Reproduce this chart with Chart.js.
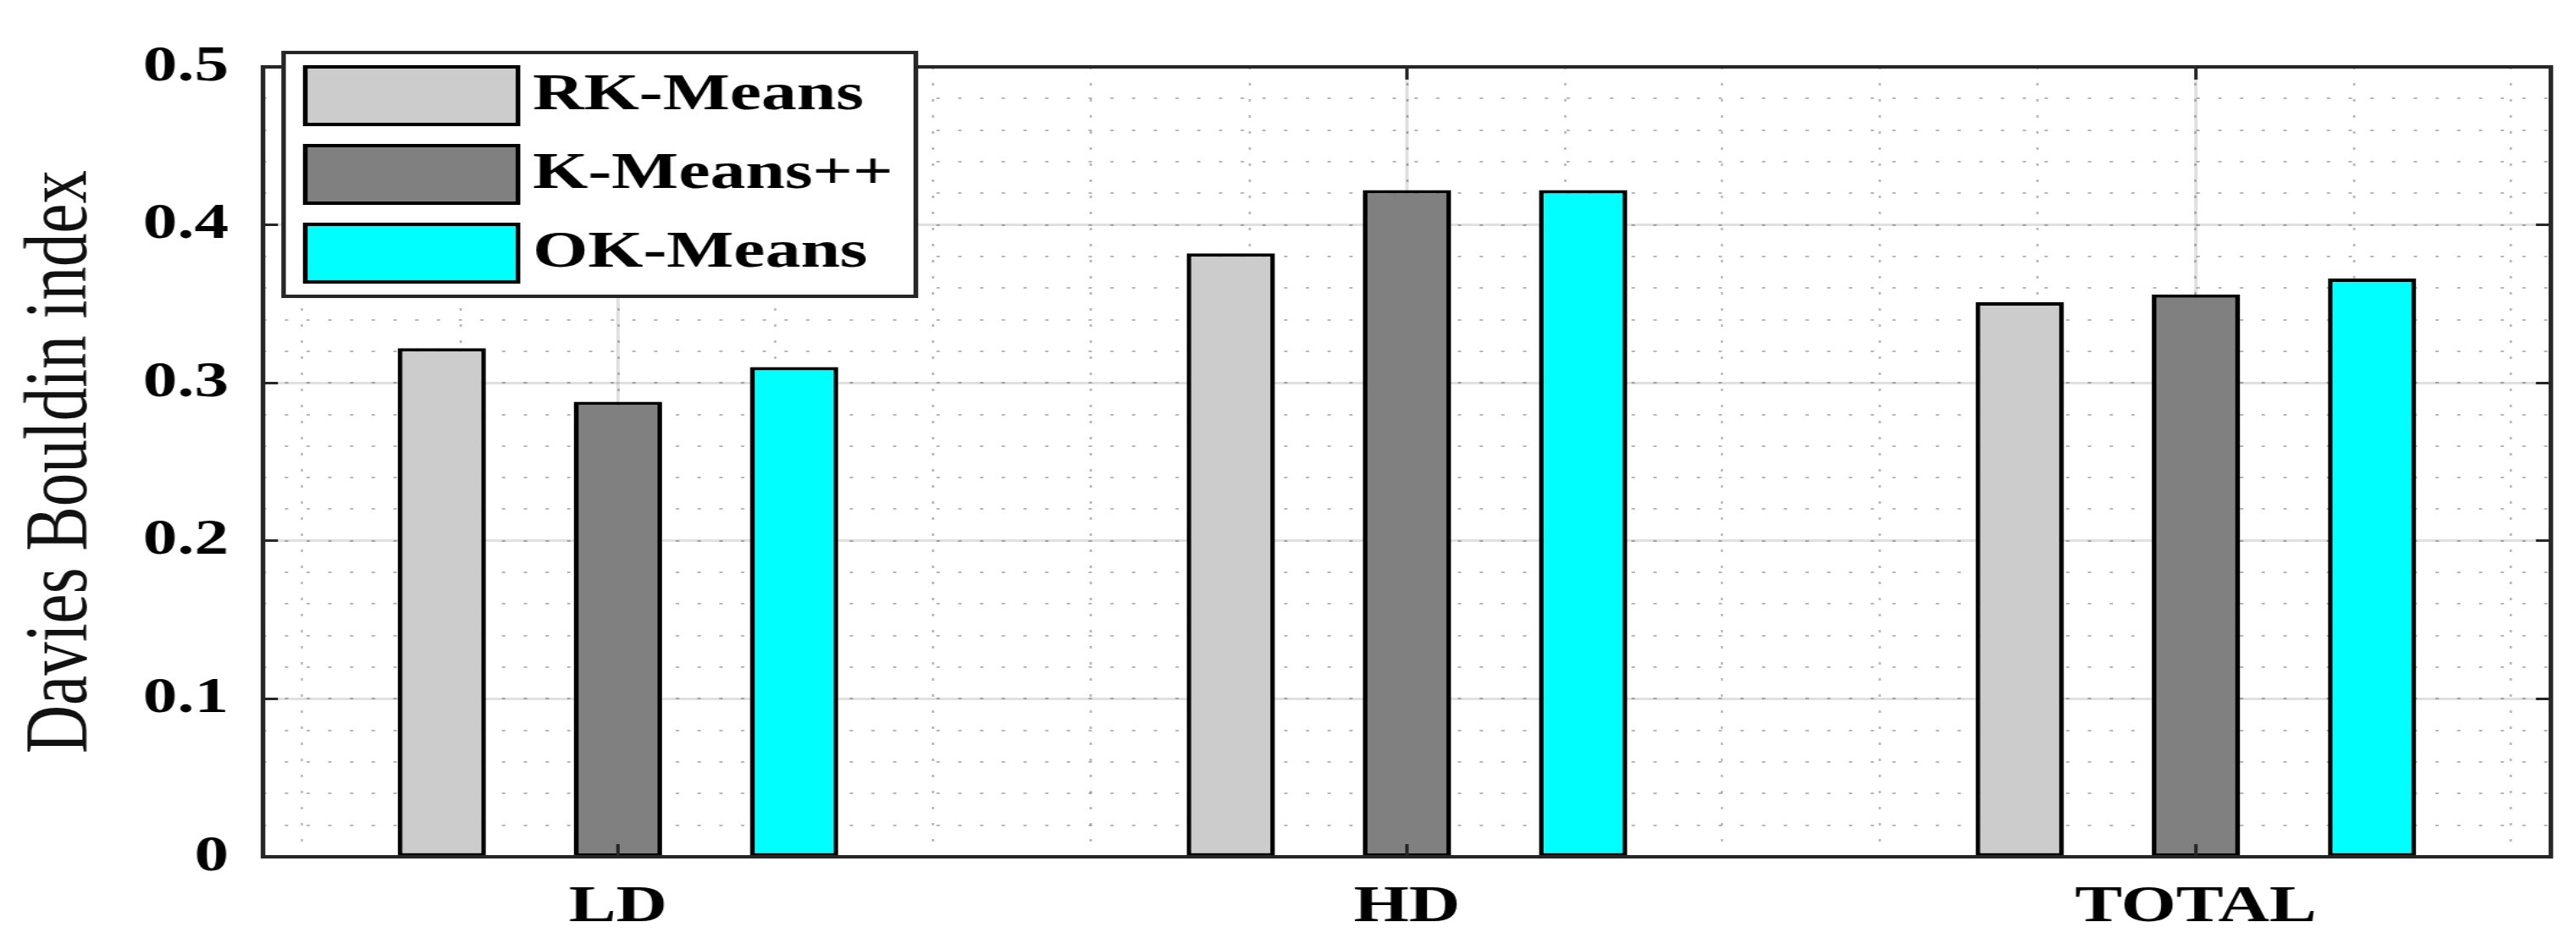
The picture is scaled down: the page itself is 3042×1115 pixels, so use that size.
<!DOCTYPE html>
<html>
<head>
<meta charset="utf-8">
<title>Davies Bouldin index</title>
<script src="https://cdn.jsdelivr.net/npm/chart.js@4.4.1/dist/chart.umd.min.js"></script>
<style>
  html, body { margin: 0; padding: 0; background: #fff; }
  #dbChart { display: block; }
</style>
</head>
<body>
<!-- the figure is drawn 2253 wide and stretched to 3042, like the original image -->
<canvas id="dbChart" width="2253" height="1115" style="width:3042px;height:1115px"></canvas>
<script>
// Chart data
const categories = ['LD', 'HD', 'TOTAL'];
const categoryPositions = [1, 2, 3];
const seriesNames = ['RK-Means', 'K-Means++', 'OK-Means'];
const rkMeans = [0.322, 0.382, 0.351];
const kMeansPlus = [0.288, 0.422, 0.356];
const okMeans = [0.310, 0.422, 0.366];
const yTicks = [0, 0.1, 0.2, 0.3, 0.4, 0.5];
const yTickLabels = ['0', '0.1', '0.2', '0.3', '0.4', '0.5'];

// Styles
const fillColors = ['#cccccc', '#808080', '#00ffff'];
const serif = "'Liberation Serif', 'Times New Roman', serif";
const frameColor = '#262626';
const majorGrid = 'rgba(0, 0, 0, 0.12)';
const minorGrid = 'rgba(0, 0, 0, 0.28)';

// Helpers for fixed axis geometry
const setTicks = values => scale => { scale.ticks = values.map(v => ({ value: v })); };
const fixWidth = w => scale => { scale.width = w; };
const fixHeight = h => scale => { scale.height = h; };

function makeDataset(label, values, color) {
  return {
    label: label,
    xAxisID: 'x',
    yAxisID: 'y',
    data: values.map((v, i) => ({ x: categoryPositions[i], y: v })),
    backgroundColor: color,
    borderColor: '#000',
    borderWidth: 4,
    borderSkipped: false,
    categoryPercentage: 0.67,
    barPercentage: 0.5
  };
}

// Legend drawn as a boxed MATLAB style legend
const boxLegend = {
  id: 'boxLegend',
  afterDraw(chart, args, opts) {
    const ctx = chart.ctx;
    ctx.save();
    ctx.fillStyle = '#fff';
    ctx.fillRect(opts.left, opts.top, opts.width, opts.height);
    ctx.lineWidth = 4;
    ctx.strokeStyle = frameColor;
    ctx.strokeRect(opts.left, opts.top, opts.width, opts.height);
    ctx.font = `bold ${opts.fontSize}px ${serif}`;
    ctx.textBaseline = 'middle';
    chart.data.datasets.forEach((ds, i) => {
      const cy = opts.top + opts.firstRow + i * opts.rowGap;
      const sy = cy - opts.swatchHeight / 2;
      ctx.fillStyle = ds.backgroundColor;
      ctx.fillRect(opts.swatchLeft, sy, opts.swatchWidth, opts.swatchHeight);
      ctx.lineWidth = 4;
      ctx.strokeStyle = '#000';
      ctx.strokeRect(opts.swatchLeft, sy, opts.swatchWidth, opts.swatchHeight);
      ctx.fillStyle = '#000';
      ctx.fillText(ds.label, opts.textLeft, cy);
    });
    ctx.restore();
  }
};

const ctx = document.getElementById('dbChart').getContext('2d');
new Chart(ctx, {
  type: 'bar',
  data: {
    datasets: [
      makeDataset(seriesNames[0], rkMeans, fillColors[0]),
      makeDataset(seriesNames[1], kMeansPlus, fillColors[1]),
      makeDataset(seriesNames[2], okMeans, fillColors[2])
    ]
  },
  options: {
    responsive: false,
    animation: false,
    layout: { padding: { top: 50, right: 22, bottom: 0, left: 0 } },
    plugins: {
      legend: { display: false },
      tooltip: { enabled: false },
      boxLegend: {
        left: 248, top: 62, width: 553, height: 288,
        firstRow: 51, rowGap: 93,
        swatchLeft: 267, swatchWidth: 186, swatchHeight: 68,
        textLeft: 466, fontSize: 62
      }
    },
    scales: {
      x: {
        type: 'linear', position: 'bottom', min: 0.55, max: 3.45, offset: false,
        afterBuildTicks: setTicks(categoryPositions),
        afterFit: fixHeight(103),
        grid: { offset: false, drawOnChartArea: false, tickLength: -15, tickColor: frameColor, tickWidth: 3, z: 1 },
        border: { color: frameColor, width: 4, z: 1 },
        ticks: {
          autoSkip: false, maxRotation: 0, padding: 38, color: '#000',
          font: { family: serif, size: 62, weight: 'bold' },
          callback: (value, index) => categories[index]
        }
      },
      y: {
        type: 'linear', position: 'left', min: 0, max: 0.5,
        afterBuildTicks: setTicks(yTicks),
        afterFit: fixWidth(230),
        grid: { drawOnChartArea: false, tickLength: -13, tickColor: frameColor, tickWidth: 3, z: 1 },
        border: { color: frameColor, width: 4, z: 1 },
        ticks: {
          padding: 43, color: '#000',
          font: { family: serif, size: 60, weight: 'bold' },
          callback: (value, index) => yTickLabels[index]
        },
        title: {
          display: true,
          text: 'Davies Bouldin index',
          color: '#111',
          padding: { top: 7, bottom: 0 },
          font: { family: serif, size: 79, weight: 'normal' }
        }
      },
      xMinor: {
        type: 'linear', position: 'top', min: 0.55, max: 3.45, offset: false,
        afterFit: fixHeight(0),
        ticks: { display: false, stepSize: 0.2, includeBounds: false },
        grid: { offset: false, color: minorGrid, lineWidth: 2, drawTicks: false, z: -2 },
        border: { display: false, dash: [3, 16] }
      },
      yMinor: {
        type: 'linear', position: 'left', min: 0, max: 0.5,
        afterFit: fixWidth(0),
        ticks: { display: false, stepSize: 0.02, includeBounds: false },
        grid: { color: minorGrid, lineWidth: 2, drawTicks: false, z: -2 },
        border: { display: false, dash: [3, 16] }
      },
      xTop: {
        type: 'linear', position: 'top', min: 0.55, max: 3.45, offset: false,
        afterBuildTicks: setTicks(categoryPositions),
        afterFit: fixHeight(0),
        ticks: { display: false },
        grid: { offset: false, color: majorGrid, lineWidth: 3, tickLength: -15, tickColor: frameColor, tickWidth: 3 },
        border: { color: frameColor, width: 4, z: 1 }
      },
      yRight: {
        type: 'linear', position: 'right', min: 0, max: 0.5,
        afterBuildTicks: setTicks(yTicks),
        afterFit: fixWidth(0),
        ticks: { display: false },
        grid: { color: majorGrid, lineWidth: 3, tickLength: -13, tickColor: frameColor, tickWidth: 3 },
        border: { color: frameColor, width: 4, z: 1 }
      }
    }
  },
  plugins: [boxLegend]
});
</script>
</body>
</html>
